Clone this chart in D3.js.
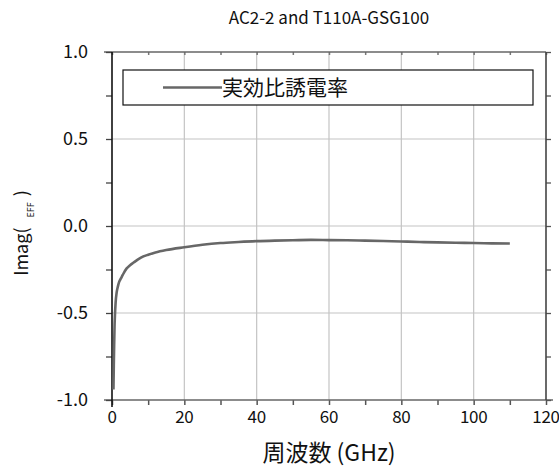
<!DOCTYPE html>
<html>
<head>
<meta charset="utf-8">
<script src="https://cdn.jsdelivr.net/npm/d3@7"></script>
<style>
  body { margin: 0; background: #fff; }
  text { font-family: 'Noto Sans CJK JP', 'Noto Sans', sans-serif; fill: #111; }
</style>
</head>
<body>
<div id="chart"></div>
<script>
/* global d3 */

var title = 'AC2-2 and T110A-GSG100'
var xLabel = '周波数 (GHz)'
var legendLabel = '実効比誘電率'

var xTicks = [0, 20, 40, 60, 80, 100, 120]
var yTicks = [-1.0, -0.5, 0.0, 0.5, 1.0]

// frequency (GHz) and Imag(eps_eff)
var freq = [0.4, 0.5, 0.6, 0.7, 0.8, 1.0, 1.3, 1.6, 2.0, 2.5, 3, 4, 5, 6, 7, 8, 10, 12, 15, 20,
  25, 30, 35, 40, 45, 50, 55, 60, 65, 70, 75, 80, 85, 90, 95, 100, 105, 110]
var imag = [-0.94, -0.80, -0.68, -0.58, -0.52, -0.44, -0.38, -0.35, -0.32, -0.30, -0.28, -0.245,
  -0.225, -0.21, -0.195, -0.182, -0.165, -0.152, -0.138, -0.122,
  -0.108, -0.098, -0.092, -0.087, -0.084, -0.082, -0.080, -0.081, -0.082, -0.084, -0.086,
  -0.089, -0.092, -0.094, -0.096, -0.098, -0.100, -0.101]

var width = 559
var height = 467
var margin = { top: 52, right: 13, bottom: 67, left: 112 }

var svg = d3.select('#chart')
  .append('svg')
  .attr('width', width)
  .attr('height', height)

var x = d3.scaleLinear()
  .domain([0, 120])
  .range([margin.left, width - margin.right])

var y = d3.scaleLinear()
  .domain([-1, 1])
  .range([height - margin.bottom, margin.top])

var x0 = x.range()[0]
var x1 = x.range()[1]
var y0 = y.range()[0]
var y1 = y.range()[1]

// grid
svg.append('g')
  .selectAll('line')
  .data(xTicks.slice(1, -1))
  .enter().append('line')
  .attr('x1', function (d) { return x(d) })
  .attr('x2', function (d) { return x(d) })
  .attr('y1', y1)
  .attr('y2', y0)
  .style('stroke', '#c4c4c4')
  .style('stroke-width', 1.2)

svg.append('g')
  .selectAll('line')
  .data(yTicks.slice(1, -1))
  .enter().append('line')
  .attr('x1', x0)
  .attr('x2', x1)
  .attr('y1', function (d) { return y(d) })
  .attr('y2', function (d) { return y(d) })
  .style('stroke', '#c4c4c4')
  .style('stroke-width', 1.2)

// bottom axis
svg.append('g')
  .attr('transform', 'translate(0,' + y0 + ')')
  .call(d3.axisBottom(x).tickValues(d3.range(0, 121, 10)).tickSize(5).tickSizeOuter(0).tickFormat(''))
  .call(function (g) {
    g.select('.domain').remove()
    g.selectAll('line').style('stroke', '#555').style('stroke-width', 1.5)
  })

svg.append('line')
  .attr('x1', x0 - 8).attr('x2', x1 + 7)
  .attr('y1', y0).attr('y2', y0)
  .style('stroke', '#666').style('stroke-width', 1.6)

svg.append('g')
  .selectAll('text')
  .data(xTicks)
  .enter().append('text')
  .attr('x', function (d) { return x(d) })
  .attr('y', y0 + 23)
  .style('text-anchor', 'middle')
  .style('font-size', '17px')
  .style('letter-spacing', '-0.3px')
  .text(function (d) { return d })

// top axis
svg.append('g')
  .attr('transform', 'translate(0,' + y1 + ')')
  .call(d3.axisBottom(x).tickValues(d3.range(0, 121, 10)).tickSize(3).tickSizeOuter(0).tickFormat(''))
  .call(function (g) {
    g.select('.domain').remove()
    g.selectAll('line').style('stroke', '#777').style('stroke-width', 1.5)
  })

svg.append('line')
  .attr('x1', x0 - 8).attr('x2', x1)
  .attr('y1', y1).attr('y2', y1)
  .style('stroke', '#666').style('stroke-width', 1.4)

// left axis
svg.append('g')
  .attr('transform', 'translate(' + x0 + ',0)')
  .call(d3.axisLeft(y).tickValues(d3.range(-1, 1.01, 0.25)).tickSize(6).tickSizeOuter(0).tickFormat(''))
  .call(function (g) {
    g.select('.domain').remove()
    g.selectAll('line').style('stroke', '#444').style('stroke-width', 1.3)
  })

svg.append('line')
  .attr('x1', x0).attr('x2', x0)
  .attr('y1', y1).attr('y2', y0 + 7)
  .style('stroke', '#111').style('stroke-width', 1.6)

svg.append('g')
  .selectAll('text')
  .data(yTicks)
  .enter().append('text')
  .attr('x', x0 - 24)
  .attr('y', function (d) { return y(d) + 6 })
  .style('text-anchor', 'end')
  .style('font-size', '18px')
  .text(function (d) { return d3.format('.1f')(d).replace('−', '-') })

// right axis
svg.append('g')
  .attr('transform', 'translate(' + x1 + ',0)')
  .call(d3.axisRight(y).tickValues(d3.range(-1, 1.01, 0.25)).tickSize(5).tickSizeOuter(0).tickFormat(''))
  .call(function (g) {
    g.select('.domain').remove()
    g.selectAll('line').style('stroke', '#555').style('stroke-width', 1.3)
  })

svg.append('line')
  .attr('x1', x1).attr('x2', x1)
  .attr('y1', y1).attr('y2', y0)
  .style('stroke', '#444').style('stroke-width', 1.6)

// curve
var line = d3.line()
  .x(function (d, i) { return x(freq[i]) })
  .y(function (d) { return y(d) })
  .curve(d3.curveMonotoneX)

svg.append('path')
  .datum(imag)
  .attr('d', line)
  .style('fill', 'none')
  .style('stroke', '#676767')
  .style('stroke-width', 2.6)

// legend
var legend = svg.append('g')
legend.append('rect')
  .attr('x', 123).attr('y', 70)
  .attr('width', 410).attr('height', 35)
  .style('fill', '#fff')
  .style('stroke', '#111')
  .style('stroke-width', 1.2)

legend.append('line')
  .attr('x1', 163).attr('x2', 222)
  .attr('y1', 87.5).attr('y2', 87.5)
  .style('stroke', '#676767')
  .style('stroke-width', 2.6)

legend.append('text')
  .attr('x', 222)
  .attr('y', 95)
  .style('font-size', '21px')
  .text(legendLabel)

// title
svg.append('text')
  .attr('x', (x0 + x1) / 2)
  .attr('y', 24)
  .style('text-anchor', 'middle')
  .style('font-size', '17px')
  .text(title)

// x label
svg.append('text')
  .attr('x', (x0 + x1) / 2)
  .attr('y', 461)
  .style('text-anchor', 'middle')
  .style('font-size', '23px')
  .text(xLabel)

// y label: Imag(eps EFF)
var yl = svg.append('text')
  .attr('transform', 'translate(28,' + 233 + ') rotate(-90)')
  .style('text-anchor', 'middle')
  .style('font-size', '18px')
yl.append('tspan').text('Imag(')
yl.append('tspan').attr('dx', 10).attr('dy', 6).style('font-size', '9px').text('EFF')
yl.append('tspan').attr('dx', 6).attr('dy', -6).text(')')
</script>
</body>
</html>
